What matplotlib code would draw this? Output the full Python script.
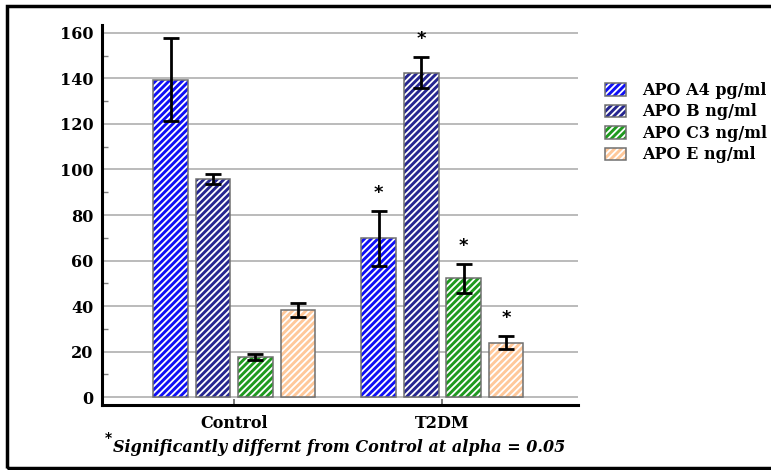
import matplotlib
matplotlib.use("Agg")
import matplotlib.pyplot as plt
from matplotlib.patches import Patch, Rectangle
from matplotlib.legend_handler import HandlerTuple
import numpy as np

groups = ["Control", "T2DM"]
series = ["APO A4 pg/ml", "APO B ng/ml", "APO C3 ng/ml", "APO E ng/ml"]
control_mean = [139.5, 95.8, 17.4, 38.2]
control_err = [18.2, 2.2, 1.3, 3.0]
t2dm_mean = [69.7, 142.6, 52.2, 23.9]
t2dm_err = [12.1, 6.8, 6.4, 2.8]
t2dm_signif = [True, True, True, True]

colors = ["#1010f5", "#262690", "#1f9a1f", "#ffc89a"]

plt.rcParams["hatch.linewidth"] = 1.3
plt.rcParams["font.family"] = "DejaVu Serif"
plt.rcParams["font.weight"] = "bold"

fig = plt.figure(figsize=(7.71, 4.70), dpi=100)
ax = fig.add_axes([0.1323, 0.1383, 0.6174, 0.8085])

x = np.arange(len(groups))
width = 0.166
pitch = 0.204
means = np.array([control_mean, t2dm_mean])
errs = np.array([control_err, t2dm_err])

handles = []
for i, name in enumerate(series):
    pos = x + (i - 1.5) * pitch
    # striped fill first, then a gray outline on top
    ax.bar(pos, means[:, i], width, color=colors[i], edgecolor="white",
           hatch="/////", linewidth=0, zorder=2)
    ax.bar(pos, means[:, i], width, fill=False, edgecolor="#707070",
           linewidth=1.1, zorder=3)
    ax.errorbar(pos, means[:, i], yerr=errs[:, i], fmt="none", ecolor="black",
                elinewidth=2, capsize=6, capthick=2, zorder=4)
    if t2dm_signif[i]:
        ax.annotate("*", (pos[1], t2dm_mean[i] + t2dm_err[i]),
                    xytext=(0, 13), textcoords="offset points",
                    ha="center", va="center", fontsize=13,
                    family="DejaVu Sans", weight="bold")
    handles.append((Patch(facecolor=colors[i], edgecolor="white", hatch="/////",
                          linewidth=0),
                    Patch(fill=False, edgecolor="#707070", linewidth=1.1)))

ax.set_xlim(-0.635, 1.651)
ax.set_ylim(-3.5, 163.5)
ax.set_yticks(np.arange(0, 161, 20))
ax.set_yticks(np.arange(10, 160, 20), minor=True)
ax.set_xticks(x)
ax.set_xticklabels(groups, fontsize=11.5, fontweight="bold")
ax.tick_params(axis="y", which="major", length=0, pad=6, labelsize=11.5)
ax.tick_params(axis="y", which="minor", direction="in", length=4,
               color="#808080", width=1)
ax.tick_params(axis="x", direction="in", length=4, color="#606060", width=1.2,
               pad=7)
ax.yaxis.grid(True, color="#a8a8a8", linewidth=1.1, zorder=0)
ax.set_axisbelow(True)

for side in ["top", "right"]:
    ax.spines[side].set_visible(False)
ax.spines["left"].set_linewidth(2.2)
ax.spines["bottom"].set_linewidth(2.2)

fig.legend(handles, series, handler_map={tuple: HandlerTuple(ndivide=1, pad=0)},
           loc="upper left", bbox_to_anchor=(605 / 771, 1 - 82 / 470),
           frameon=False, fontsize=11.5, handlelength=1.3,
           handleheight=0.85, handletextpad=1.0, labelspacing=0.28,
           borderaxespad=0, borderpad=0)

# footnote with a raised asterisk
fig.text(108 / 771, 1 - 438 / 470, "*", fontsize=10, family="DejaVu Sans",
         weight="bold", va="center", ha="center")
fig.text(113 / 771, 1 - 447 / 470,
         "Significantly differnt from Control at alpha = 0.05",
         fontsize=11.5, fontweight="bold", fontstyle="italic",
         va="center", ha="left")

# outer frame
fig.patches.append(Rectangle((7 / 771, 2 / 470), 1.0, 1 - 8 / 470,
                             transform=fig.transFigure, fill=False,
                             edgecolor="black", linewidth=2.5))

plt.savefig("out.png", dpi=100)
